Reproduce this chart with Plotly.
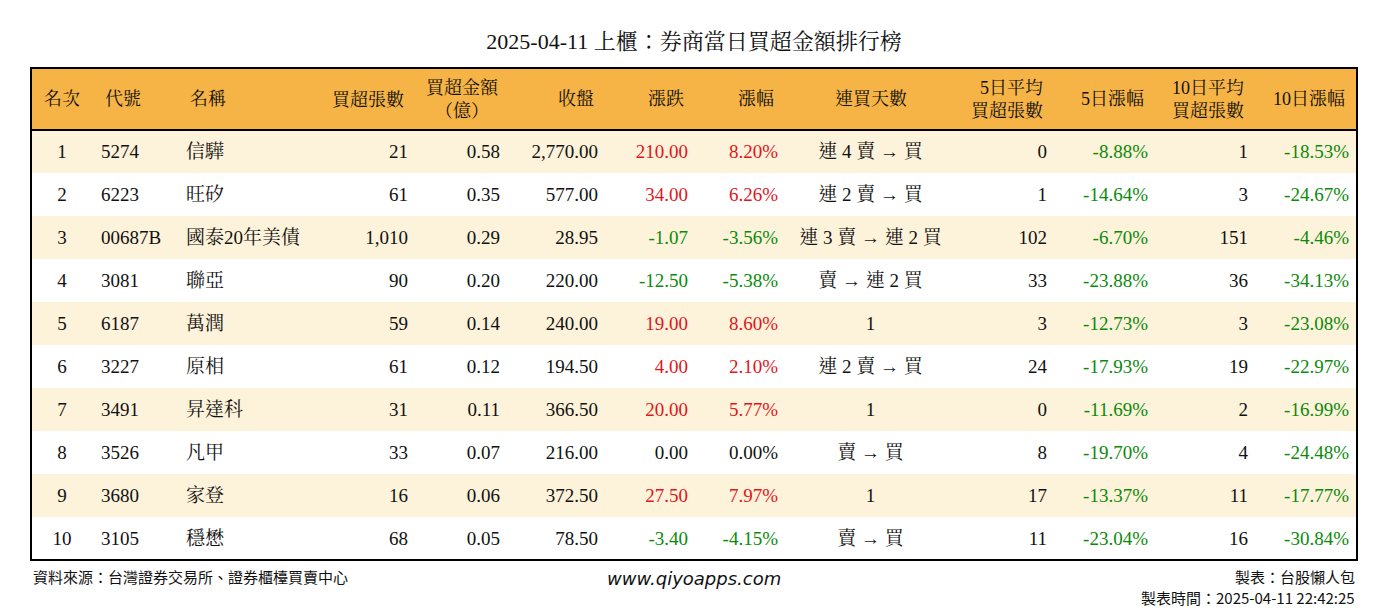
import plotly.graph_objects as go

rank = [str(i) for i in range(1, 11)]
code = ["5274", "6223", "00687B", "3081", "6187", "3227", "3491", "3526", "3680", "3105"]
name = ["信驊", "旺矽", "國泰20年美債", "聯亞", "萬潤", "原相", "昇達科", "凡甲", "家登", "穩懋"]
net_lots = [21, 61, 1010, 90, 59, 61, 31, 33, 16, 68]
net_amt = [0.58, 0.35, 0.29, 0.20, 0.14, 0.12, 0.11, 0.07, 0.06, 0.05]
close = [2770.00, 577.00, 28.95, 220.00, 240.00, 194.50, 366.50, 216.00, 372.50, 78.50]
change = [210.00, 34.00, -1.07, -12.50, 19.00, 4.00, 20.00, 0.00, 27.50, -3.40]
pct = [8.20, 6.26, -3.56, -5.38, 8.60, 2.10, 5.77, 0.00, 7.97, -4.15]
streak = ["連 4 賣 → 買", "連 2 賣 → 買", "連 3 賣 → 連 2 買", "賣 → 連 2 買", "1",
          "連 2 賣 → 買", "1", "賣 → 買", "1", "賣 → 買"]
avg5 = [0, 1, 102, 33, 3, 24, 0, 8, 17, 11]
pct5 = [-8.88, -14.64, -6.70, -23.88, -12.73, -17.93, -11.69, -19.70, -13.37, -23.04]
avg10 = [1, 3, 151, 36, 3, 19, 2, 4, 11, 16]
pct10 = [-18.53, -24.67, -4.46, -34.13, -23.08, -22.97, -16.99, -24.48, -17.77, -30.84]

headers = ["名次", "代號", "名稱", "買超張數", "買超金額<br>（億）", "收盤", "漲跌", "漲幅",
           "連買天數", "5日平均<br>買超張數", "5日漲幅", "10日平均<br>買超張數", "10日漲幅"]

RED, GREEN, BLK = "#e3141d", "#0b8a0b", "#111111"
def col(v):
    return RED if v > 0 else (GREEN if v < 0 else BLK)

cells = [rank, code, name,
         [f"{v:,}" for v in net_lots],
         [f"{v:.2f}" for v in net_amt],
         [f"{v:,.2f}" for v in close],
         [f"{v:.2f}" for v in change],
         [f"{v:.2f}%" for v in pct],
         streak,
         [f"{v:,}" for v in avg5],
         [f"{v:.2f}%" for v in pct5],
         [f"{v:,}" for v in avg10],
         [f"{v:.2f}%" for v in pct10]]

n = len(rank)
black = [BLK] * n
colors = [black, black, black, black, black, black,
          [col(v) for v in change], [col(v) for v in pct], black, black,
          [col(v) for v in pct5], black, [col(v) for v in pct10]]

widths = [62, 85, 132, 106, 92, 98, 90, 90, 169, 100, 101, 100, 101]
align_c = ["center", "left", "left", "right", "right", "right", "right", "right",
           "center", "right", "right", "right", "right"]
align_h = ["center", "left", "left", "right", "center", "right", "right", "right",
           "center", "right", "right", "right", "right"]

L, R, T, B = 23, 39, 60, 52
W, H = 1388, 612
PW, PH = W - L - R, H - T - B
HDR, ROW, OFF = 62, 43, 6
def py(p):
    return 1 - p / PH

FONT = "Liberation Serif, Noto Serif CJK TC, Noto Sans CJK TC"
fig = go.Figure(go.Table(
    columnwidth=widths,
    header=dict(values=[""] * len(headers), fill_color="rgba(0,0,0,0)",
                line_color="rgba(0,0,0,0)", height=HDR),
    cells=dict(values=cells, fill_color="rgba(0,0,0,0)", line_color="rgba(0,0,0,0)",
               align=align_c, height=ROW,
               font=dict(family=FONT, size=19, color=colors)),
    domain=dict(x=[0, 1], y=[0, py(OFF)]),
))

shapes = []
shapes.append(dict(type="rect", xref="paper", yref="paper", x0=0, x1=1, y0=py(0), y1=py(HDR),
                   fillcolor="#f7b446", line_width=0, layer="below"))
for i in range(n):
    if i % 2 == 0:
        shapes.append(dict(type="rect", xref="paper", yref="paper", x0=0, x1=1,
                           y0=py(HDR + ROW * i), y1=py(HDR + ROW * (i + 1)),
                           fillcolor="#fdf2da", line_width=0, layer="below"))
total = HDR + ROW * n
shapes.append(dict(type="rect", xref="paper", yref="paper", x0=0, x1=1, y0=py(total), y1=py(0),
                   line=dict(color="black", width=2)))
shapes.append(dict(type="line", xref="paper", yref="paper", x0=0, x1=1, y0=py(HDR), y1=py(HDR),
                   line=dict(color="black", width=2)))

annotations = []
edge = 0
for h, w, a in zip(headers, widths, align_h):
    if a == "left":
        x, xa = (edge + 10) / PW, "left"
    elif a == "right":
        x, xa = (edge + w - 10) / PW, "right"
    else:
        x, xa = (edge + w / 2) / PW, "center"
    annotations.append(dict(text=h, xref="paper", yref="paper", x=x, y=py(HDR / 2),
                            xanchor=xa, yanchor="middle", align=a, showarrow=False,
                            font=dict(family=FONT, size=18, color=BLK)))
    edge += w

FOOT = "Noto Sans CJK TC"
annotations += [
    dict(text="資料來源：台灣證券交易所、證券櫃檯買賣中心", xref="paper", yref="paper",
         x=0, y=0, yshift=-8, xanchor="left", yanchor="middle", showarrow=False,
         font=dict(family=FOOT, size=15, color=BLK)),
    dict(text="<i>www.qiyoapps.com</i>", xref="paper", yref="paper",
         x=0.5, y=0, yshift=-10, xanchor="center", yanchor="middle", showarrow=False,
         font=dict(family="DejaVu Sans", size=18, color=BLK)),
    dict(text="製表：台股懶人包", xref="paper", yref="paper",
         x=1, y=0, yshift=-8, xanchor="right", yanchor="middle", showarrow=False,
         font=dict(family=FOOT, size=15, color=BLK)),
    dict(text="製表時間：2025-04-11 22:42:25", xref="paper", yref="paper",
         x=1, y=0, yshift=-29, xanchor="right", yanchor="middle", showarrow=False,
         font=dict(family=FOOT, size=15, color=BLK)),
]

fig.update_layout(
    width=W, height=H, paper_bgcolor="white", plot_bgcolor="white",
    margin=dict(l=L, r=R, t=T, b=B),
    shapes=shapes, annotations=annotations,
    title=dict(text="2025-04-11 上櫃：券商當日買超金額排行榜", x=(L + PW / 2) / W, xanchor="center",
               y=1 - 33 / H, yanchor="middle",
               font=dict(family=FONT, size=22, color=BLK)),
)
fig.write_html("out.html")
